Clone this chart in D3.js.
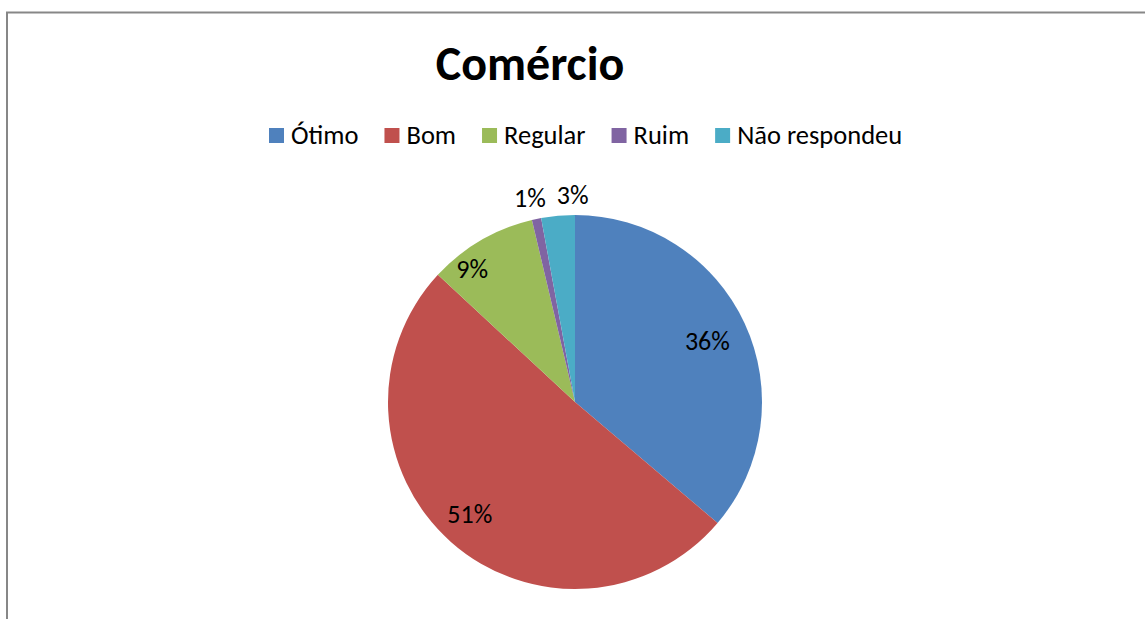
<!DOCTYPE html>
<html>
<head>
<meta charset="utf-8">
<script src="https://cdn.jsdelivr.net/npm/d3@7"></script>
<style>
  body { margin: 0; background: #fff; }
  svg { display: block; }
  text { font-family: Carlito, Calibri, "Open Sans", sans-serif; fill: #000; }
</style>
</head>
<body>
<svg id="chart" width="1145" height="619"></svg>
<script>
// chart data
var categories = ["Ótimo", "Bom", "Regular", "Ruim", "Não respondeu"];
var values = [36.2, 50.7, 9.4, 0.8, 2.9];
var colors = ["#4F81BD", "#C0504D", "#9BBB59", "#8064A2", "#4BACC6"];
var chartTitle = "Comércio";

var svg = d3.select("#chart");

// outer chart border (right and bottom run past the window)
svg.append("rect")
    .attr("x", 7).attr("y", 12.5)
    .attr("width", 1200).attr("height", 700)
    .attr("fill", "#fff")
    .attr("stroke", "#878787")
    .attr("stroke-width", 2);

// title
svg.append("text")
    .attr("x", 530).attr("y", 80)
    .attr("text-anchor", "middle")
    .style("font-size", "48px")
    .style("font-weight", "bold")
    .text(chartTitle);

// legend
var legend = svg.append("g").attr("class", "legend");
var lx = 269;
categories.forEach(function(c, i) {
    var item = legend.append("g").attr("transform", "translate(" + lx + ",0)");
    item.append("rect")
        .attr("x", 0).attr("y", 128)
        .attr("width", 15).attr("height", 15)
        .attr("fill", colors[i]);
    var t = item.append("text")
        .attr("x", 22).attr("y", 144)
        .style("font-size", "26.5px")
        .text(c);
    var w = t.node().getComputedTextLength();
    lx += 22 + w + 26;
});

// pie
var cx = 575, cy = 402, r = 187;
var pie = d3.pie().sort(null).value(function(d) { return d; });
var arcs = pie(values);
var arc = d3.arc().innerRadius(0).outerRadius(r);

var g = svg.append("g").attr("transform", "translate(" + cx + "," + cy + ")");

g.selectAll("path.slice")
    .data(arcs)
    .enter().append("path")
    .attr("class", "slice")
    .attr("d", arc)
    .attr("fill", function(d, i) { return colors[i]; });

// data labels: radius factor and small angle nudge per slice (best-fit style)
var labelR = [0.78, 0.82, 0.9, 1.12, 1.11];
var labelNudge = [0, 0.03, -0.13, -0.01, 0.08];
var fmt = d3.format(".0%");
var total = d3.sum(values);

g.selectAll("text.lbl")
    .data(arcs)
    .enter().append("text")
    .attr("class", "lbl")
    .attr("transform", function(d, i) {
        var a = (d.startAngle + d.endAngle) / 2 + labelNudge[i];
        var rr = r * labelR[i];
        return "translate(" + (Math.sin(a) * rr) + "," + (-Math.cos(a) * rr) + ")";
    })
    .attr("text-anchor", "middle")
    .attr("dy", "0.35em")
    .style("font-size", "26px")
    .text(function(d) { return fmt(d.value / total); });
</script>
</body>
</html>
